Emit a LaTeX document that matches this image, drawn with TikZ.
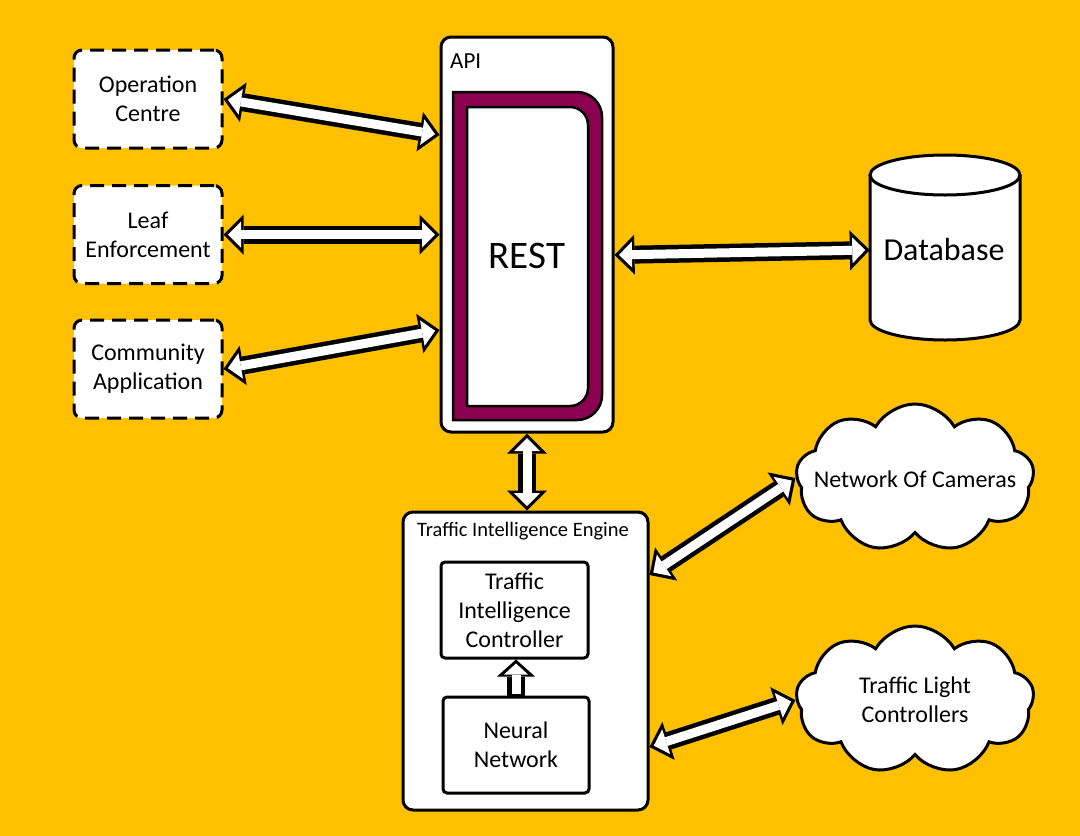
\documentclass[tikz,border=0pt]{standalone}
\usepackage{fontspec}
\setmainfont{Carlito}
\usetikzlibrary{arrows.meta,shapes.symbols,calc}
\definecolor{bgc}{RGB}{255,192,0}
\definecolor{restc}{RGB}{139,0,80}
\begin{document}
\begin{tikzpicture}[x=1pt,y=-1pt,
  lbl/.style={font=\fontsize{24}{29}\selectfont, align=center, text=black},
  dbox/.style={lbl, draw=black, line width=3pt, dash pattern=on 14pt off 8pt, fill=white,
    rounded corners=8pt, inner sep=0pt, minimum width=148pt, minimum height=98pt},
  sbox/.style={draw=black, line width=3pt, fill=white, rounded corners=10pt, inner sep=0pt},
  ibox/.style={lbl, draw=black, line width=3pt, fill=white, rounded corners=4pt, inner sep=0pt},
  cloudbox/.style={cloud, cloud puffs=9, cloud puff arc=120, aspect=1.6, draw=black,
    line width=3pt, fill=white, inner sep=0pt, minimum width=238pt, minimum height=148pt},
  rrect/.style n args={5}{insert path={(#1,#2) -- ({#3-#5},#2)
    arc[start angle=270,end angle=360,radius=#5] -- (#3,{#4-#5})
    arc[start angle=0,end angle=90,radius=#5] -- (#1,#4) -- cycle}},
  biarrow/.style={draw=black, line width=18pt,
    {Triangle[length=20pt,width=40pt,line width=0pt]}-{Triangle[length=20pt,width=40pt,line width=0pt]},
    postaction={draw=white, line width=9pt,
      {Triangle[length=13pt,width=26pt,line width=0pt]}-{Triangle[length=13pt,width=26pt,line width=0pt]},
      shorten <=4.5pt, shorten >=4.5pt}},
  uparrow/.style={draw=black, line width=18pt,
    -{Triangle[length=17pt,width=38pt,line width=0pt]},
    postaction={draw=white, line width=9pt,
      -{Triangle[length=11pt,width=24pt,line width=0pt]},
      shorten <=1.5pt, shorten >=4pt}}
]
% background
\fill[bgc] (0,0) rectangle (1080,836);

% left dashed boxes
\node[dbox] (oc) at (148,99) {Operation\\Centre};
\node[dbox] (le) at (148,234.5) {Leaf\\Enforcement};
\node[dbox] (ca) at (148,369) {Community\\Application};

% API box
\node[sbox, minimum width=172pt, minimum height=395pt] (api) at (527,234.5) {};
\node[font=\fontsize{23}{27}\selectfont, anchor=west, inner sep=0pt] (apilbl) at (450,61) {API};
\draw[line width=2.5pt, fill=restc] [rrect={453}{92}{602}{420}{25}];
\draw[line width=2.5pt, fill=white] [rrect={467}{107}{588}{406}{18}];
\node[font=\fontsize{39}{45}\selectfont] (rest) at (527,256) {REST};

% Database
\node[inner sep=0pt, minimum width=150pt, minimum height=185pt] (db) at (945,247.5) {};
\fill[white] (870,175) -- (870,320) arc[start angle=180,end angle=0,x radius=75,y radius=20] -- (1020,175) -- cycle;
\draw[line width=3pt] (870,175) -- (870,320) arc[start angle=180,end angle=0,x radius=75,y radius=20] -- (1020,175);
\draw[line width=3pt, fill=white] (945,175) ellipse[x radius=75, y radius=20];
\node[font=\fontsize{32}{38}\selectfont] (dblbl) at (944,250) {Database};

% Traffic Intelligence Engine
\node[sbox, minimum width=245pt, minimum height=298pt] (tie) at (525.5,661) {};
\node[font=\fontsize{20.5}{25}\selectfont, inner sep=0pt] (tielbl) at (523,531) {Traffic Intelligence Engine};
\node[ibox, minimum width=147pt, minimum height=96pt] (tic) at (514.5,610) {Traffic\\Intelligence\\Controller};
\node[ibox, minimum width=146pt, minimum height=96pt] (nn) at (516,745) {Neural\\Network};

% clouds
\node[cloudbox] (cam) at (915,478) {};
\node[lbl] (camlbl) at (915,479) {Network Of Cameras};
\node[cloudbox] (tlc) at (915,700) {};
\node[lbl] (tlclbl) at (915,700) {Traffic Light\\Controllers};

% connectors
\draw[biarrow] (oc.east) -- (api.west |- 0,135);
\draw[biarrow] (le.east) -- (api.west |- le.east);
\draw[biarrow] (ca.east) -- (api.west |- 0,330);
\draw[biarrow] (api.east |- 0,255) -- (db.west |- 0,250);
\draw[biarrow] (api.south) -- (api.south |- tie.north);
\draw[biarrow] (tie.east |- 0,575) -- (cam.west);
\draw[biarrow] (tie.east |- 0,747) -- (tlc.west);
\draw[uparrow] (nn.north) -- (nn.north |- tic.south);
\end{tikzpicture}
\end{document}
